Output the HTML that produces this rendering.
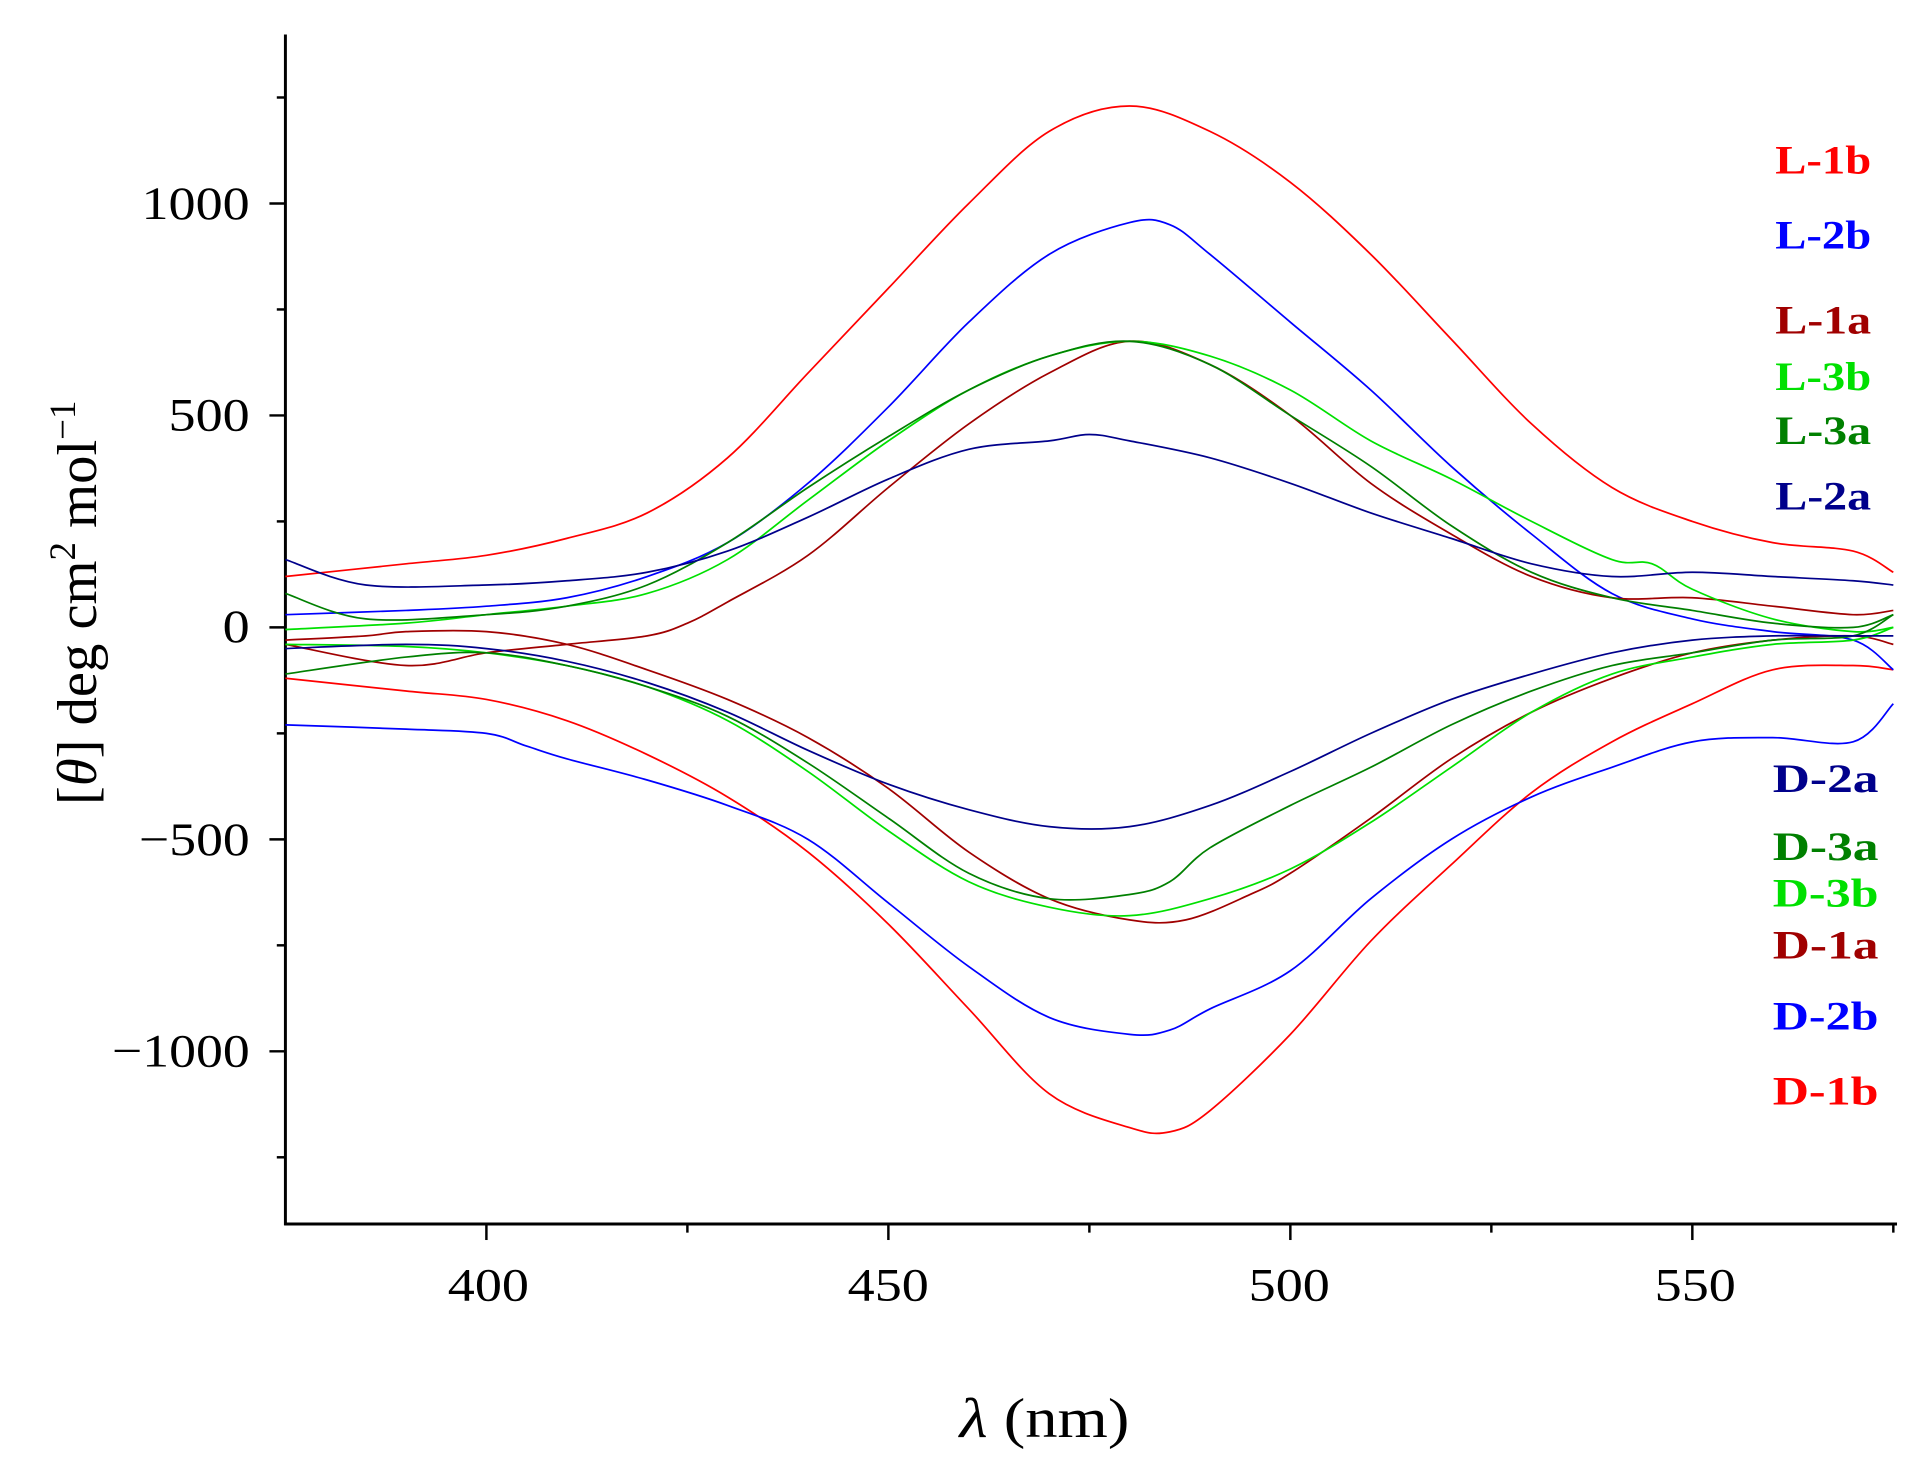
<!DOCTYPE html>
<html><head><meta charset="utf-8"><style>
html,body{margin:0;padding:0;background:#fff;}
svg{display:block;}
text{font-family:"Liberation Serif",serif;}
</style></head><body>
<svg id="s" width="1929" height="1474" viewBox="0 0 1568 1198.2" preserveAspectRatio="none" xmlns="http://www.w3.org/2000/svg">
<rect width="1568" height="1198.2" fill="#fff"/>
<g stroke="#000" stroke-width="2.4" fill="none">
<line x1="232" y1="28" x2="232" y2="996"/>
<line x1="231" y1="995" x2="1542" y2="995"/>
</g>
<g id="ticks" stroke="#000" stroke-width="2"></g>
<g font-size="38" fill="#000" lengthAdjust="spacingAndGlyphs">
<text x="115" y="178" textLength="88" lengthAdjust="spacingAndGlyphs">1000</text>
<text x="137" y="350" textLength="66" lengthAdjust="spacingAndGlyphs">500</text>
<text x="181" y="522" textLength="22" lengthAdjust="spacingAndGlyphs">0</text>
<text x="113" y="695" textLength="90" lengthAdjust="spacingAndGlyphs">−500</text>
<text x="91" y="867" textLength="112" lengthAdjust="spacingAndGlyphs">−1000</text>
</g>
<g font-size="38" fill="#000">
<text x="364" y="1057" textLength="66" lengthAdjust="spacingAndGlyphs">400</text>
<text x="689" y="1057" textLength="66" lengthAdjust="spacingAndGlyphs">450</text>
<text x="1015" y="1057" textLength="66" lengthAdjust="spacingAndGlyphs">500</text>
<text x="1345" y="1057" textLength="66" lengthAdjust="spacingAndGlyphs">550</text>
</g>
<text x="780" y="1168" font-size="46" textLength="138" lengthAdjust="spacingAndGlyphs"><tspan font-style="italic">λ</tspan> (nm)</text>
<text transform="translate(78,490) rotate(-90)" font-size="46" text-anchor="middle">[<tspan font-style="italic">θ</tspan>] deg cm<tspan dy="-17" font-size="30">2</tspan><tspan dy="17"> mol</tspan><tspan dy="-17" font-size="30">−1</tspan></text>
<g id="curves" fill="none" stroke-width="1.4"></g>
<g font-size="33" font-weight="bold" id="lab"></g>
</svg>
<script>
var L=[['L-1b',1443,141,'#ff0000'],['L-2b',1443,202,'#0000ff'],['L-1a',1443,271,'#a00000'],['L-3b',1443,317,'#00e000'],['L-3a',1443,361,'#008000'],['L-2a',1443,414,'#00008b'],
['D-2a',1441,644,'#00008b'],['D-3a',1441,699,'#008000'],['D-3b',1441,737,'#00e000'],['D-1a',1441,779,'#a00000'],['D-2b',1441,837,'#0000ff'],['D-1b',1441,898,'#ff0000']];
document.getElementById('lab').innerHTML=L.map(function(a){return '<text x="'+a[1]+'" y="'+a[2]+'" fill="'+a[3]+'" textLength="'+(a[0][0]=='L'?78:86)+'" lengthAdjust="spacingAndGlyphs">'+a[0]+'</text>';}).join('');
var X=function(l){return 232+(l-375)*6.535;}, Y=function(v){return 510-v*0.3446;};
var t=document.getElementById('ticks'),h='';
for(var l=400;l<=575;l+=25){var x=X(l);h+='<line x1="'+x+'" y1="995" x2="'+x+'" y2="'+(l%50==0?1008:1002)+'"/>';}
for(var v=-1250;v<=1250;v+=250){var y=Y(v);h+='<line x1="232" y1="'+y+'" x2="'+(v%500==0?219:225)+'" y2="'+y+'"/>';}
t.innerHTML=h;
var D=[
['#ff0000','375:120,390:150,400:170,410:210,420:270,430:400,440:600,450:800,460:1000,470:1170,480:1230,490:1170,500:1050,510:880,520:680,530:480,540:330,550:250,560:200,570:180,575:130'],
['#ff0000','375:-120,390:-150,400:-170,410:-220,420:-300,430:-400,440:-530,450:-700,460:-900,470:-1100,480:-1180,485:-1190,490:-1140,500:-960,510:-740,520:-560,530:-390,540:-270,550:-180,560:-100,570:-90,575:-100'],
['#0000ff','375:30,390:40,400:50,410:70,420:120,430:200,440:340,450:520,460:720,470:880,480:955,485:950,490:880,500:720,510:560,520:380,530:220,540:80,550:20,560:-10,570:-30,575:-100'],
['#0000ff','375:-230,390:-240,400:-250,405:-280,410:-310,420:-360,430:-420,440:-500,450:-650,460:-800,470:-920,480:-960,485:-950,490:-900,500:-810,510:-640,520:-500,530:-400,540:-330,550:-270,560:-260,570:-270,575:-180'],
['#a00000','375:-40,390:-90,400:-60,410:-40,420:-20,425:10,430:60,440:170,450:330,460:480,470:600,480:675,490:620,500:500,510:340,520:220,530:120,540:70,550:70,560:50,570:30,575:40'],
['#a00000','375:-30,385:-20,390:-10,400:-10,410:-40,420:-100,430:-170,440:-260,450:-380,460:-530,470:-640,480:-690,487:-690,495:-630,500:-580,510:-450,520:-310,530:-200,540:-120,550:-60,560:-30,570:-20,575:-40'],
['#00e000','375:-5,390:10,400:30,410:50,420:80,430:160,440:300,450:440,460:560,470:640,480:675,490:640,500:560,510:440,520:350,530:250,540:160,545:150,550:90,560:20,570:-10,575:0'],
['#00e000','375:-40,390:-45,400:-60,410:-90,420:-140,430:-220,440:-340,450:-480,460:-600,470:-660,480:-680,490:-640,500:-570,510:-460,520:-330,530:-200,540:-110,550:-70,560:-40,570:-30,575:0'],
['#008000','375:80,385:20,400:30,410:50,420:100,430:200,440:330,450:450,460:560,470:640,480:675,490:620,500:500,510:380,520:240,530:130,540:70,550:40,560:10,570:0,575:30'],
['#008000','375:-110,390:-70,400:-60,410:-90,420:-140,430:-210,440:-320,450:-450,460:-580,470:-640,480:-630,485:-600,490:-520,500:-420,510:-330,520:-230,530:-150,540:-90,550:-60,560:-30,570:-20,575:30'],
['#00008b','375:160,385:100,400:100,410:110,420:130,430:180,440:260,450:350,460:420,470:440,475:455,480:440,490:400,500:340,510:270,520:210,530:150,540:120,550:130,560:120,570:110,575:100'],
['#00008b','375:-50,390:-40,400:-50,410:-80,420:-130,430:-200,440:-290,450:-370,460:-430,470:-470,480:-470,490:-420,500:-340,510:-250,520:-170,530:-110,540:-60,550:-30,560:-20,570:-20,575:-20']
];
var g=document.getElementById('curves'),o='';
D.forEach(function(c){
 var p=c[1].split(',').map(function(s){var a=s.split(':');return [X(+a[0]),Y(+a[1])];});
 var d='M'+p[0][0]+' '+p[0][1];
 for(var i=0;i<p.length-1;i++){
  var p0=p[i-1]||p[i],p1=p[i],p2=p[i+1],p3=p[i+2]||p2;
  d+=' C'+(p1[0]+(p2[0]-p0[0])/6)+' '+(p1[1]+(p2[1]-p0[1])/6)+' '+(p2[0]-(p3[0]-p1[0])/6)+' '+(p2[1]-(p3[1]-p1[1])/6)+' '+p2[0]+' '+p2[1];
 }
 o+='<path stroke="'+c[0]+'" d="'+d+'"/>';
});
g.innerHTML=o;
</script>
</body></html>
